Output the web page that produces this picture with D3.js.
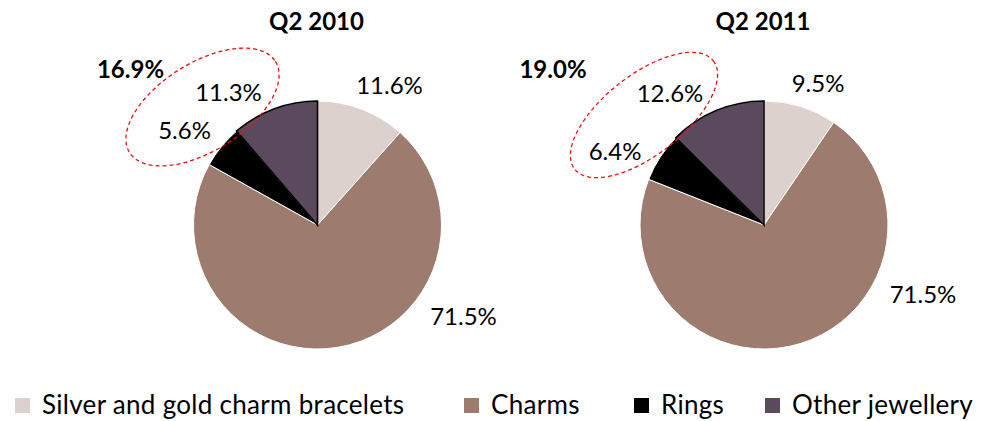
<!DOCTYPE html>
<html>
<head>
<meta charset="utf-8">
<script src="https://cdn.jsdelivr.net/npm/d3@7"></script>
<style>
  html, body { margin: 0; padding: 0; background: #fff; }
  svg { display: block; font-family: Lato, "Open Sans", sans-serif; }
</style>
</head>
<body>
<svg id="chart" width="994" height="421"></svg>
<script>
// Sales mix by product category, share of revenue (%)
const categories = ["Silver and gold charm bracelets", "Charms", "Rings", "Other jewellery"];
const periods = ["Q2 2010", "Q2 2011"];
const shares2010 = [11.6, 71.5, 5.6, 11.3];
const shares2011 = [9.5, 71.5, 6.4, 12.6];
const seriesValues = [shares2010, shares2011];

const colors = ["#ddd1cd", "#9e7b6f", "#000000", "#5b4a5e"];

// Where each pie sits and where its labels go (offsets from the pie centre)
const pieLayout = [
  {
    cx: 317.5, cy: 225,
    labels: [[72, -139], [146, 92], [-133, -94], [-89, -132]],
    total: [-187, -155],
    ring: { dx: -115, dy: -118, rx: 86, ry: 44, rot: -32 }
  },
  {
    cx: 764, cy: 225,
    labels: [[54, -141], [159, 70], [-149, -73], [-94, -131]],
    total: [-211, -155],
    ring: { dx: -120, dy: -110, rx: 88, ry: 40, rot: -38 }
  }
];

const radius = 124;
const svg = d3.select("#chart");

const pie = d3.pie().sort(null).value(d => d).startAngle(0).endAngle(2 * Math.PI);
const arc = d3.arc().innerRadius(0).outerRadius(radius);
const fmt = d3.format(".1f");

seriesValues.forEach((values, i) => {
  const lay = pieLayout[i];
  const g = svg.append("g").attr("transform", `translate(${lay.cx},${lay.cy})`);

  const arcs = pie(values);

  // slices
  g.selectAll("path.slice")
    .data(arcs)
    .join("path")
    .attr("class", "slice")
    .attr("d", arc)
    .attr("fill", (d, j) => colors[j])
    .attr("stroke", "#fff")
    .attr("stroke-width", 1);

  // outline on the "Other jewellery" slice
  g.append("path")
    .attr("d", arc(arcs[3]))
    .attr("fill", "none")
    .attr("stroke", "#000")
    .attr("stroke-width", 1.6)
    .attr("stroke-linejoin", "miter");

  // value labels
  g.selectAll("text.val")
    .data(arcs)
    .join("text")
    .attr("class", "val")
    .attr("x", (d, j) => lay.labels[j][0])
    .attr("y", (d, j) => lay.labels[j][1])
    .attr("dy", "0.35em")
    .attr("text-anchor", "middle")
    .attr("font-size", 24)
    .attr("fill", "#000")
    .text(d => fmt(d.data) + "%");

  // highlight ring around Rings + Other jewellery
  const r = lay.ring;
  g.append("ellipse")
    .attr("transform", `translate(${r.dx},${r.dy}) rotate(${r.rot})`)
    .attr("rx", r.rx)
    .attr("ry", r.ry)
    .attr("fill", "none")
    .attr("stroke", "#f01010")
    .attr("stroke-width", 1.3)
    .attr("stroke-dasharray", "4,3");

  // combined share of Rings + Other jewellery
  g.append("text")
    .attr("x", lay.total[0])
    .attr("y", lay.total[1])
    .attr("dy", "0.35em")
    .attr("text-anchor", "middle")
    .attr("font-size", 24)
    .attr("font-weight", "bold")
    .text(fmt(values[2] + values[3]) + "%");

  // period title
  svg.append("text")
    .attr("x", lay.cx - 1)
    .attr("y", 22)
    .attr("dy", "0.35em")
    .attr("text-anchor", "middle")
    .attr("font-size", 24)
    .attr("font-weight", "bold")
    .text(periods[i]);
});

// legend
const legendX = [15, 464, 634, 765];
const legend = svg.append("g").attr("transform", "translate(0,405)");
const items = legend.selectAll("g")
  .data(categories)
  .join("g")
  .attr("transform", (d, j) => `translate(${legendX[j]},0)`);
items.append("rect")
  .attr("x", 0).attr("y", -7)
  .attr("width", 15).attr("height", 15)
  .attr("fill", (d, j) => colors[j]);
items.append("text")
  .attr("x", 27)
  .attr("y", 0)
  .attr("dy", "0.35em")
  .attr("font-size", 26)
  .attr("letter-spacing", 0.3)
  .attr("fill", "#000")
  .text(d => d);
</script>
</body>
</html>
